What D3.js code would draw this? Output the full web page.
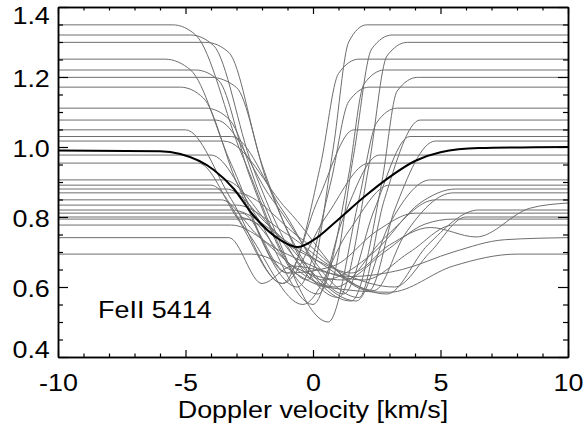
<!DOCTYPE html>
<html>
<head>
<meta charset="utf-8">
<script src="https://cdn.jsdelivr.net/npm/d3@7"></script>
<style>
  body { margin: 0; background: #fff; }
  svg { display: block; }
  text { font-family: "Liberation Sans", Arial, Helvetica, sans-serif; fill: #000; }
</style>
</head>
<body>
<svg id="chartSvg" width="584" height="430"></svg>
<script>
// tick values
const xMajorTicks = [-10, -5, 0, 5, 10];
const yMajorTicks = [0.4, 0.6, 0.8, 1.0, 1.2, 1.4];
const xMinorTicks = d3.range(-10, 10.001, 1).filter(v => v % 5 !== 0);
const yMinorTicks = [0.45, 0.5, 0.55, 0.65, 0.7, 0.75, 0.85, 0.9, 0.95, 1.05, 1.1, 1.15, 1.25, 1.3, 1.35];

const xLabel = "Doppler velocity [km/s]";
const lineName = "FeII 5414";

// mean profile (thick black line)
const meanProfile = [
  [-10, 0.99], [-6, 0.988], [-5.2, 0.98], [-3.9, 0.935], [-3.1, 0.88], [-2.4, 0.81],
  [-1.3, 0.735], [-0.6, 0.714], [0, 0.733], [0.95, 0.79], [2, 0.857], [3, 0.914],
  [4, 0.96], [5, 0.985], [6.5, 0.997], [10, 1.0]
];

// individual profiles (thin grey lines), estimated
const grayProfiles = [
  [[-10,1.349],[-5.5,1.349],[-4.6,1.32],[-2.8,0.98],[-0.2,0.62],[0.8,1.0],[1.4,1.3],[2.1,1.349],[10,1.349]],
  [[-10,1.32],[-4.8,1.32],[-3.9,1.29],[-2.4,0.95],[0.6,0.60],[1.6,0.98],[2.3,1.28],[3.1,1.32],[10,1.32]],
  [[-10,1.299],[-4.2,1.299],[-3.3,1.27],[-2.0,0.95],[1.0,0.57],[2.2,0.95],[2.9,1.26],[3.7,1.299],[10,1.299]],
  [[-10,1.251],[-5.8,1.251],[-4.8,1.22],[-3.2,0.95],[-1.0,0.64],[0.3,0.95],[1.0,1.21],[1.8,1.251],[10,1.251]],
  [[-10,1.22],[-4.6,1.22],[-3.7,1.19],[-2.5,0.92],[0.2,0.58],[1.4,0.92],[2.0,1.18],[2.8,1.22],[10,1.22]],
  [[-10,1.199],[-4.0,1.199],[-3.0,1.17],[-1.8,0.90],[1.5,0.56],[2.7,0.90],[3.3,1.16],[4.1,1.199],[10,1.199]],
  [[-10,1.171],[-5.2,1.171],[-4.3,1.14],[-3.0,0.90],[-0.6,0.60],[0.7,0.90],[1.4,1.13],[2.2,1.171],[10,1.171]],
  [[-10,1.111],[-4.2,1.111],[-3.3,1.08],[-2.0,0.85],[0.6,0.50],[1.8,0.85],[2.5,1.07],[3.3,1.111],[10,1.111]],
  [[-10,1.077],[-3.8,1.077],[-1.6,0.85],[1.8,0.57],[2.8,0.85],[4.2,1.077],[10,1.077]],
  [[-10,1.049],[-5.0,1.049],[-3.2,0.85],[-1.2,0.61],[0.2,0.85],[1.6,1.049],[10,1.049]],
  [[-10,1.03],[-3.2,1.03],[-1.2,0.82],[1.2,0.58],[2.4,0.82],[3.8,1.03],[10,1.03]],
  [[-10,1.017],[-3.5,1.017],[-1.0,0.82],[2.2,0.59],[3.2,0.82],[4.8,1.017],[10,1.017]],
  [[-10,0.977],[-4.0,0.977],[-2.2,0.80],[0.0,0.55],[1.2,0.80],[2.6,0.977],[10,0.977]],
  [[-10,0.954],[-4.5,0.954],[-3.0,0.80],[-1.2,0.61],[0.5,0.80],[2.2,0.954],[10,0.954]],
  [[-10,0.906],[-3.5,0.906],[-1.5,0.76],[1.7,0.56],[3.0,0.78],[4.6,0.906],[10,0.906]],
  [[-10,0.891],[-4.0,0.891],[-2.6,0.76],[-0.4,0.55],[1.4,0.76],[3.0,0.891],[10,0.891]],
  [[-10,0.88],[-3.4,0.88],[-1.8,0.78],[0.4,0.62],[2.4,0.70],[4.2,0.84],[5.6,0.88],[10,0.88]],
  [[-10,0.869],[-3.0,0.869],[-0.5,0.74],[2.4,0.59],[3.6,0.75],[5.5,0.869],[10,0.869]],
  [[-10,0.849],[-3.6,0.849],[-2.2,0.75],[0.9,0.60],[2.8,0.74],[4.8,0.849],[10,0.849]],
  [[-10,0.834],[-3.0,0.834],[-1.0,0.75],[1.5,0.64],[3.0,0.72],[4.6,0.77],[6.4,0.743],[8.5,0.825],[10,0.84]],
  [[-10,0.82],[-3.2,0.82],[-0.8,0.72],[2.9,0.58],[4.5,0.72],[6.5,0.82],[10,0.82]],
  [[-10,0.811],[-2.8,0.811],[-1.0,0.64],[0.8,0.66],[2.5,0.76],[4.0,0.811],[10,0.811]],
  [[-10,0.80],[-3.0,0.80],[-0.5,0.70],[3.2,0.60],[4.6,0.70],[6.0,0.80],[10,0.80]],
  [[-10,0.794],[-2.6,0.794],[-0.8,0.66],[1.2,0.62],[2.8,0.70],[4.4,0.78],[5.5,0.794],[10,0.794]],
  [[-10,0.777],[-3.2,0.777],[-1.2,0.70],[2.0,0.62],[3.8,0.70],[5.5,0.777],[10,0.777]],
  [[-10,0.741],[-3.3,0.741],[-2.0,0.61],[-0.8,0.66],[1.5,0.63],[3.5,0.65],[5.5,0.70],[7.5,0.735],[10,0.741]],
  [[-10,0.694],[-2.4,0.694],[0.5,0.60],[3.0,0.585],[5.5,0.66],[8.0,0.694],[10,0.694]]
];

const svg = d3.select("#chartSvg");

const x = d3.scaleLinear().domain([-10, 10]).range([58, 568]);
const y = d3.scaleLinear().domain([0.4, 1.4]).range([357, 7]);

const stretch = "scale(1.17,1)";

const line = d3.line()
  .x(d => x(d[0]))
  .y(d => y(d[1]))
  .curve(d3.curveMonotoneX);

svg.append("defs").append("clipPath").attr("id", "plotClip")
  .append("rect")
  .attr("x", x(-10)).attr("y", y(1.4))
  .attr("width", x(10) - x(-10)).attr("height", y(0.4) - y(1.4));

const plot = svg.append("g").attr("clip-path", "url(#plotClip)");

plot.selectAll(".grayLine")
  .data(grayProfiles)
  .enter()
  .append("path")
  .attr("class", "grayLine")
  .attr("d", line)
  .attr("fill", "none")
  .attr("stroke", "#6e6e6e")
  .attr("stroke-width", 1);

plot.append("path")
  .datum(meanProfile)
  .attr("d", line)
  .attr("fill", "none")
  .attr("stroke", "#000")
  .attr("stroke-width", 2);

// axes: ticks point inward, mirrored on top and right
function styleAxis(g) {
  g.selectAll("path.domain").attr("stroke", "#000").attr("stroke-width", 1.5);
  g.selectAll("line").attr("stroke", "#000").attr("stroke-width", 1.2);
}

const bottomAxis = svg.append("g")
  .attr("transform", `translate(0,${y(0.4)})`)
  .call(d3.axisBottom(x).tickValues(xMajorTicks).tickSize(-7).tickSizeOuter(0)
    .tickPadding(18).tickFormat(d => String(d)))
  .call(styleAxis);
bottomAxis.selectAll("text")
  .attr("font-size", "23px")
  .attr("font-family", null)
  .attr("transform", stretch);

svg.append("g")
  .attr("transform", `translate(0,${y(0.4)})`)
  .call(d3.axisBottom(x).tickValues(xMinorTicks).tickSize(-3.5).tickSizeOuter(0).tickFormat(""))
  .call(styleAxis);

svg.append("g")
  .attr("transform", `translate(0,${y(1.4)})`)
  .call(d3.axisTop(x).tickValues(xMajorTicks).tickSize(-7).tickSizeOuter(0).tickFormat(""))
  .call(styleAxis);
svg.append("g")
  .attr("transform", `translate(0,${y(1.4)})`)
  .call(d3.axisTop(x).tickValues(xMinorTicks).tickSize(-3.5).tickSizeOuter(0).tickFormat(""))
  .call(styleAxis);

const leftAxis = svg.append("g")
  .attr("transform", `translate(${x(-10)},0)`)
  .call(d3.axisLeft(y).tickValues(yMajorTicks).tickSize(-10).tickSizeOuter(0)
    .tickPadding(7).tickFormat(d3.format(".1f")))
  .call(styleAxis);
leftAxis.selectAll("text")
  .attr("font-size", "23px")
  .attr("font-family", null)
  .attr("transform", stretch)
  .attr("dy", d => d === 1.4 ? "0.72em" : (d === 0.4 ? "0em" : "0.43em"));

svg.append("g")
  .attr("transform", `translate(${x(-10)},0)`)
  .call(d3.axisLeft(y).tickValues(yMinorTicks).tickSize(-5).tickSizeOuter(0).tickFormat(""))
  .call(styleAxis);

svg.append("g")
  .attr("transform", `translate(${x(10)},0)`)
  .call(d3.axisRight(y).tickValues(yMajorTicks).tickSize(-10).tickSizeOuter(0).tickFormat(""))
  .call(styleAxis);
svg.append("g")
  .attr("transform", `translate(${x(10)},0)`)
  .call(d3.axisRight(y).tickValues(yMinorTicks).tickSize(-5).tickSizeOuter(0).tickFormat(""))
  .call(styleAxis);

// axis title
svg.append("g")
  .attr("transform", `translate(${(x(-10) + x(10)) / 2},418)`)
  .append("text")
  .attr("text-anchor", "middle")
  .attr("font-size", "23px")
  .attr("transform", stretch)
  .text(xLabel);

// line name inside the plot
svg.append("g")
  .attr("transform", `translate(${x(-8.43)},${y(0.511)})`)
  .append("text")
  .attr("font-size", "23px")
  .attr("transform", stretch)
  .text(lineName);
</script>
</body>
</html>
